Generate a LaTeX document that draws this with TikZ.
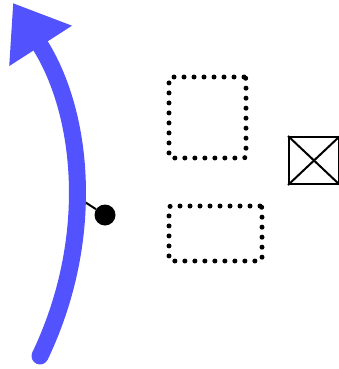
\documentclass[tikz,border=0pt]{standalone}
\usepackage{xcolor}
\usepackage{tikz}
\usetikzlibrary{arrows.meta,positioning}
\definecolor{arrowblue}{RGB}{82,82,255}

\begin{document}
\begin{tikzpicture}[x=1pt, y=-1pt, dotbox/.style={draw, line width=5pt, dash pattern=on 0pt off 10pt, line cap=round, rounded corners=2pt, inner sep=0pt}, crossbox/.style={draw, line width=2pt, inner sep=0pt, minimum width=50pt, minimum height=47pt}, pinball/.style={circle, fill=black, inner sep=0pt, minimum size=21pt}, bigarr/.style={-{Triangle[length=51pt, width=71pt]}, line width=17pt, line cap=round, draw=arrowblue}]
\useasboundingbox (0,0) rectangle (339,369);
\coordinate (tail) at (40,356);
\coordinate (head) at (13,3);
\coordinate (pin) at (74,195);
\node[pinball] (ball) at (105,215) {};
\node[dotbox, minimum width=77pt, minimum height=81pt] (upper) at (207.5,117.5) {};
\node[dotbox, minimum width=93pt, minimum height=55pt] (lower) at (215.5,233.5) {};
\node[crossbox] (cross) at (314,160.5) {};
\draw[line width=2pt] (cross.north west) -- (cross.south east);
\draw[line width=2pt] (cross.south west) -- (cross.north east);
\draw[line width=2pt] (pin) -- (ball);
\draw[bigarr] (tail) .. controls (96.4,238.1) and (83.4,112.4) .. (head);
\end{tikzpicture}
\end{document}
